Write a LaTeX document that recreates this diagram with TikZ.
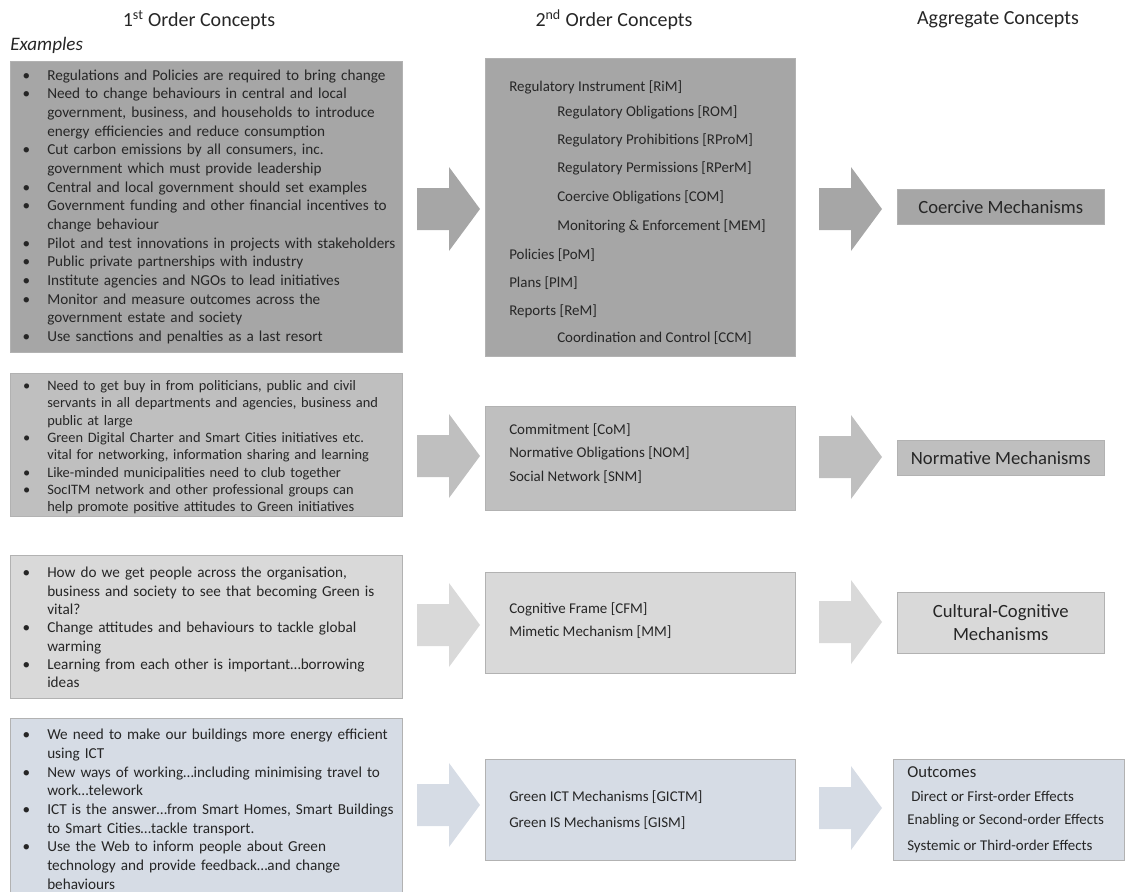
\documentclass[tikz,border=0pt]{standalone}
\usepackage{fontspec}
\setmainfont{Carlito}
\usepackage{xcolor}
\usetikzlibrary{positioning,calc}

\newlength{\pxu}
\setlength{\pxu}{0.75pt}

\definecolor{rowA}{HTML}{A6A6A6}
\definecolor{rowB}{HTML}{BFBFBF}
\definecolor{rowC}{HTML}{D9D9D9}
\definecolor{rowD}{HTML}{D6DCE5}
\definecolor{ink}{HTML}{262626}

\newenvironment{bulletlist}{%
  \begin{list}{\textbullet}{%
    \setlength{\leftmargin}{34\pxu}%
    \setlength{\labelwidth}{17\pxu}%
    \setlength{\labelsep}{17\pxu}%
    \setlength{\itemsep}{0pt}\setlength{\parsep}{0pt}%
    \setlength{\topsep}{0pt}\setlength{\partopsep}{0pt}}}%
  {\end{list}}

\tikzset{
    heading/.style={inner sep=0pt, text=ink, font=\fontsize{15}{18}\selectfont},
    examplebox/.style={anchor=north west, draw=black!30, line width=0.4pt, minimum width=392\pxu, inner sep=0pt},
    exampletext/.style={anchor=west, inner sep=0pt, text width=420\pxu, align=left, text=ink},
    secondbox/.style={anchor=north west, draw=black!30, line width=0.4pt, minimum width=310\pxu, inner sep=0pt},
    conceptline/.style={anchor=west, inner sep=0pt, text=ink, font=\fontsize{11.2}{13}\selectfont},
    aggbox/.style={anchor=north west, draw=black!30, line width=0.4pt, minimum width=207\pxu, inner sep=0pt, text=ink, align=center, font=\fontsize{14}{17.5}\selectfont},
    blockarrow/.pic={\path[pic actions] (0,-21) -- (32,-21) -- (32,-42) -- (63,0) -- (32,42) -- (32,21) -- (0,21) -- cycle;}
}

\begin{document}
\begin{tikzpicture}[x=0.75pt, y=-0.75pt]
    \useasboundingbox (0,0) rectangle (1125,892);

    % Headings
    \node[heading] (head1) at (199,20) {1\textsuperscript{st} Order Concepts};
    \node[heading] (head2) at (614,20) {2\textsuperscript{nd} Order Concepts};
    \node[heading] (head3) at (998,20) {Aggregate Concepts};
    \node[heading, anchor=west, font=\fontsize{14.3}{17}\selectfont\itshape] (examples) at (10,45) {Examples};

    % Coercive row
    \node[examplebox, fill=rowA, minimum height=291\pxu] (ex1) at (10,61) {};
    \node[exampletext, font=\fontsize{11.4}{14}\selectfont] (ex1t) at ($(ex1.west)+(3,-4)$) {%
        \begin{bulletlist}
        \item Regulations and Policies are required to bring change
        \item Need to change behaviours in central and local\\ government, business, and households to introduce\\ energy efficiencies and reduce consumption
        \item Cut carbon emissions by all consumers, inc.\\ government which must provide leadership
        \item Central and local government should set examples
        \item Government funding and other financial incentives to\\ change behaviour
        \item Pilot and test innovations in projects with stakeholders
        \item Public private partnerships with industry
        \item Institute agencies and NGOs to lead initiatives
        \item Monitor and measure outcomes across the\\ government estate and society
        \item Use sanctions and penalties as a last resort
        \end{bulletlist}};
    \pic[fill=rowA] (arr1a) at (417,209) {blockarrow};
    \node[secondbox, fill=rowA, minimum height=298\pxu] (so1) at (485,58) {};
    \foreach \x/\y/\t [count=\i] in {509/87/Regulatory Instrument [RiM], 557/112/Regulatory Obligations [ROM],
        557/140/Regulatory Prohibitions [RProM], 557/168/Regulatory Permissions [RPerM],
        557/197/Coercive Obligations [COM], 557/226/Monitoring \& Enforcement [MEM],
        509/255/Policies [PoM], 509/283/Plans [PlM], 509/311/Reports [ReM],
        557/338/Coordination and Control [CCM]}
        \node[conceptline] (so1l\i) at (\x,\y) {\t};
    \pic[fill=rowA] (arr1b) at (819,209) {blockarrow};
    \node[aggbox, fill=rowA, minimum height=35\pxu] (ag1) at (897,189) {Coercive Mechanisms};

    % Normative row
    \node[examplebox, fill=rowB, minimum height=143\pxu] (ex2) at (10,373) {};
    \node[exampletext, font=\fontsize{10.8}{13}\selectfont] (ex2t) at ($(ex2.west)+(3,-1)$) {%
        \begin{bulletlist}
        \item Need to get buy in from politicians, public and civil\\ servants in all departments and agencies, business and\\ public at large
        \item Green Digital Charter and Smart Cities initiatives etc.\\ vital for networking, information sharing and learning
        \item Like-minded municipalities need to club together
        \item SocITM network and other professional groups can\\ help promote positive attitudes to Green initiatives
        \end{bulletlist}};
    \pic[fill=rowB] (arr2a) at (417,456) {blockarrow};
    \node[secondbox, fill=rowB, minimum height=104\pxu] (so2) at (485,406) {};
    \foreach \y/\t [count=\i] in {430/Commitment [CoM], 453/Normative Obligations [NOM], 477/Social Network [SNM]}
        \node[conceptline] (so2l\i) at (509,\y) {\t};
    \pic[fill=rowB] (arr2b) at (819,457) {blockarrow};
    \node[aggbox, fill=rowB, minimum height=35\pxu] (ag2) at (897,440) {Normative Mechanisms};

    % Cultural-cognitive row
    \node[examplebox, fill=rowC, minimum height=143\pxu] (ex3) at (10,555) {};
    \node[exampletext, font=\fontsize{11.4}{13.75}\selectfont] (ex3t) at ($(ex3.west)+(3,-3)$) {%
        \begin{bulletlist}
        \item How do we get people across the organisation,\\ business and society to see that becoming Green is\\ vital?
        \item Change attitudes and behaviours to tackle global\\ warming
        \item Learning from each other is important…borrowing\\ ideas
        \end{bulletlist}};
    \pic[fill=rowC] (arr3a) at (417,625) {blockarrow};
    \node[secondbox, fill=rowC, minimum height=101\pxu] (so3) at (485,572) {};
    \foreach \y/\t [count=\i] in {609/Cognitive Frame [CFM], 632/Mimetic Mechanism [MM]}
        \node[conceptline] (so3l\i) at (509,\y) {\t};
    \pic[fill=rowC] (arr3b) at (819,622) {blockarrow};
    \node[aggbox, fill=rowC, minimum height=61\pxu] (ag3) at (897,592) {Cultural-Cognitive\\Mechanisms};

    % Green IS / ICT row
    \node[examplebox, fill=rowD, minimum height=174\pxu] (ex4) at (10,718) {};
    \node[exampletext, font=\fontsize{11.4}{14}\selectfont] (ex4t) at ($(ex4.west)+(3,0)$) {%
        \begin{bulletlist}
        \item We need to make our buildings more energy efficient\\ using ICT
        \item New ways of working…including minimising travel to\\ work…telework
        \item ICT is the answer…from Smart Homes, Smart Buildings\\ to Smart Cities…tackle transport.
        \item Use the Web to inform people about Green\\ technology and provide feedback…and change\\ behaviours
        \end{bulletlist}};
    \pic[fill=rowD] (arr4a) at (417,805) {blockarrow};
    \node[secondbox, fill=rowD, minimum height=101\pxu] (so4) at (485,759) {};
    \foreach \y/\t [count=\i] in {797/Green ICT Mechanisms [GICTM], 823/Green IS Mechanisms [GISM]}
        \node[conceptline] (so4l\i) at (509,\y) {\t};
    \pic[fill=rowD] (arr4b) at (819,808) {blockarrow};
    \node[aggbox, fill=rowD, minimum width=231\pxu, minimum height=101\pxu] (ag4) at (893,759) {};
    \node[conceptline, font=\fontsize{12.5}{15}\selectfont] (outc) at (907,772) {Outcomes};
    \node[conceptline, font=\fontsize{11.2}{13}\selectfont] (eff1) at (911,796) {Direct or First-order Effects};
    \node[conceptline, font=\fontsize{11.2}{13}\selectfont] (eff2) at (907,821) {Enabling or Second-order Effects};
    \node[conceptline, font=\fontsize{11.2}{13}\selectfont] (eff3) at (907,847) {Systemic or Third-order Effects};
\end{tikzpicture}
\end{document}
